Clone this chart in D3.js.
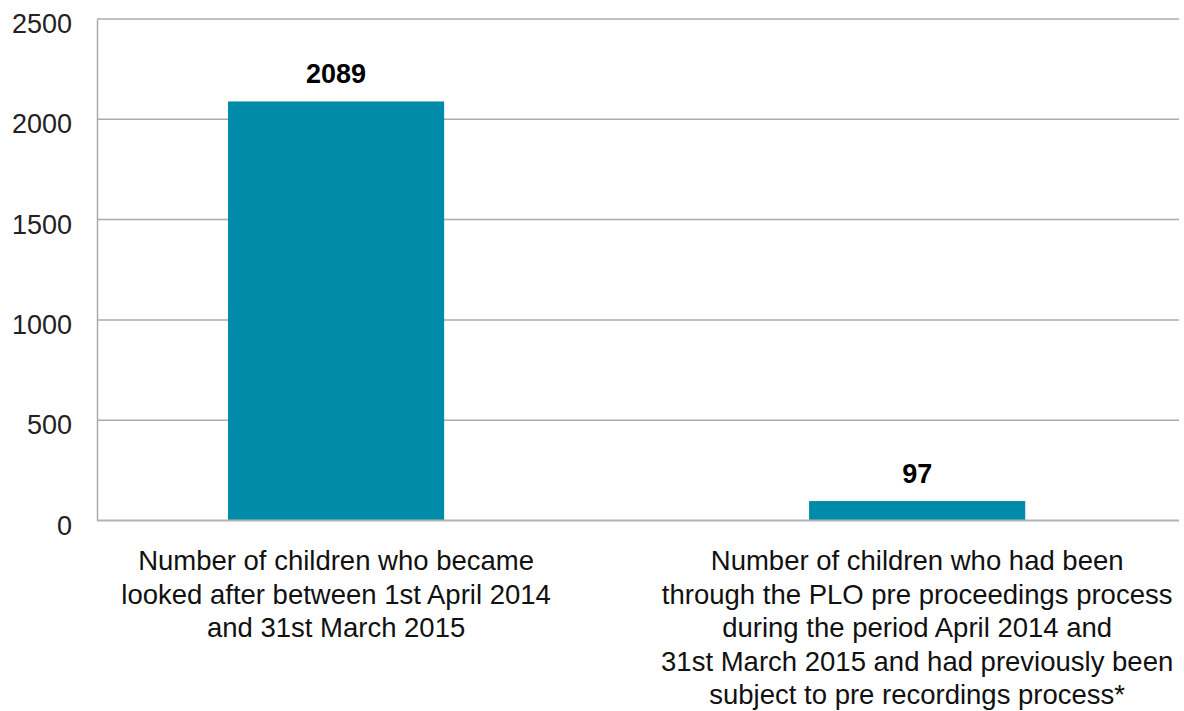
<!DOCTYPE html>
<html>
<head>
<meta charset="utf-8">
<script src="https://cdn.jsdelivr.net/npm/d3@7"></script>
<style>
  body { margin: 0; background: #fff; }
  text { font-family: "Liberation Sans", Arial, sans-serif; }
</style>
</head>
<body>
<div id="chart"></div>
<script>
var width = 1184;
var height = 711;

// data
var categories = ["looked_after", "plo_pre"];
var values = [2089, 97];
var categoryLines = [
    ["Number of children who became",
     "looked after between 1st April 2014",
     "and 31st March 2015"],
    ["Number of children who had been",
     "through the PLO pre proceedings process",
     "during the period April 2014 and",
     "31st March 2015 and had previously been",
     "subject to pre recordings process*"]
];
var yTicks = [0, 500, 1000, 1500, 2000, 2500];

var margin = {top: 19, right: 5, bottom: 190.5, left: 97};

var svg = d3.select("#chart").append("svg")
    .attr("width", width)
    .attr("height", height);

var x = d3.scaleBand()
    .domain(categories)
    .range([margin.left, width - margin.right])
    .paddingInner(0.628)
    .paddingOuter(0.245)
    .align(0.46);

var y = d3.scaleLinear()
    .domain([0, 2500])
    .range([height - margin.bottom, margin.top]);

// gridlines
svg.append("g")
    .selectAll("line")
    .data(yTicks.filter(function(d) { return d > 0; }))
    .join("line")
    .attr("x1", margin.left)
    .attr("x2", width - margin.right)
    .attr("y1", function(d) { return y(d); })
    .attr("y2", function(d) { return y(d); })
    .attr("stroke", "#ababab")
    .attr("stroke-width", 1.5);

// y axis
var yAxis = svg.append("g")
    .attr("transform", "translate(" + margin.left + ",0)")
    .call(d3.axisLeft(y).tickValues(yTicks).tickFormat(d3.format("d")).tickSize(0).tickPadding(25));
yAxis.select(".domain").attr("stroke", "#ababab").attr("stroke-width", 1.5);
yAxis.selectAll("text")
    .attr("font-size", 27)
    .attr("fill", "#222")
    .attr("dy", "0.5em")
    .style("font-family", "'Liberation Sans', Arial, sans-serif");

// bars
svg.append("g")
    .selectAll("rect")
    .data(values)
    .join("rect")
    .attr("x", function(d, i) { return x(categories[i]); })
    .attr("width", x.bandwidth())
    .attr("y", function(d) { return y(d); })
    .attr("height", function(d) { return y(0) - y(d); })
    .attr("fill", "#008ca8");

// baseline
svg.append("line")
    .attr("x1", margin.left)
    .attr("x2", width - margin.right)
    .attr("y1", y(0))
    .attr("y2", y(0))
    .attr("stroke", "#b3b3b3")
    .attr("stroke-width", 2);

// value labels
svg.append("g")
    .selectAll("text")
    .data(values)
    .join("text")
    .attr("x", function(d, i) { return x(categories[i]) + x.bandwidth() / 2; })
    .attr("y", function(d) { return y(d) - 18; })
    .attr("text-anchor", "middle")
    .attr("font-size", 27)
    .attr("font-weight", "bold")
    .attr("fill", "#000")
    .text(function(d) { return d; });

// category labels
var catG = svg.append("g")
    .selectAll("text")
    .data(categoryLines)
    .join("text")
    .attr("text-anchor", "middle")
    .attr("font-size", 27.5)
    .attr("fill", "#111")
    .attr("transform", function(d, i) {
        return "translate(" + (x(categories[i]) + x.bandwidth() / 2) + "," + 570 + ")";
    });

catG.selectAll("tspan")
    .data(function(d) { return d; })
    .join("tspan")
    .attr("x", 0)
    .attr("y", function(d, j) { return j * 33.5; })
    .text(function(d) { return d; });
</script>
</body>
</html>
